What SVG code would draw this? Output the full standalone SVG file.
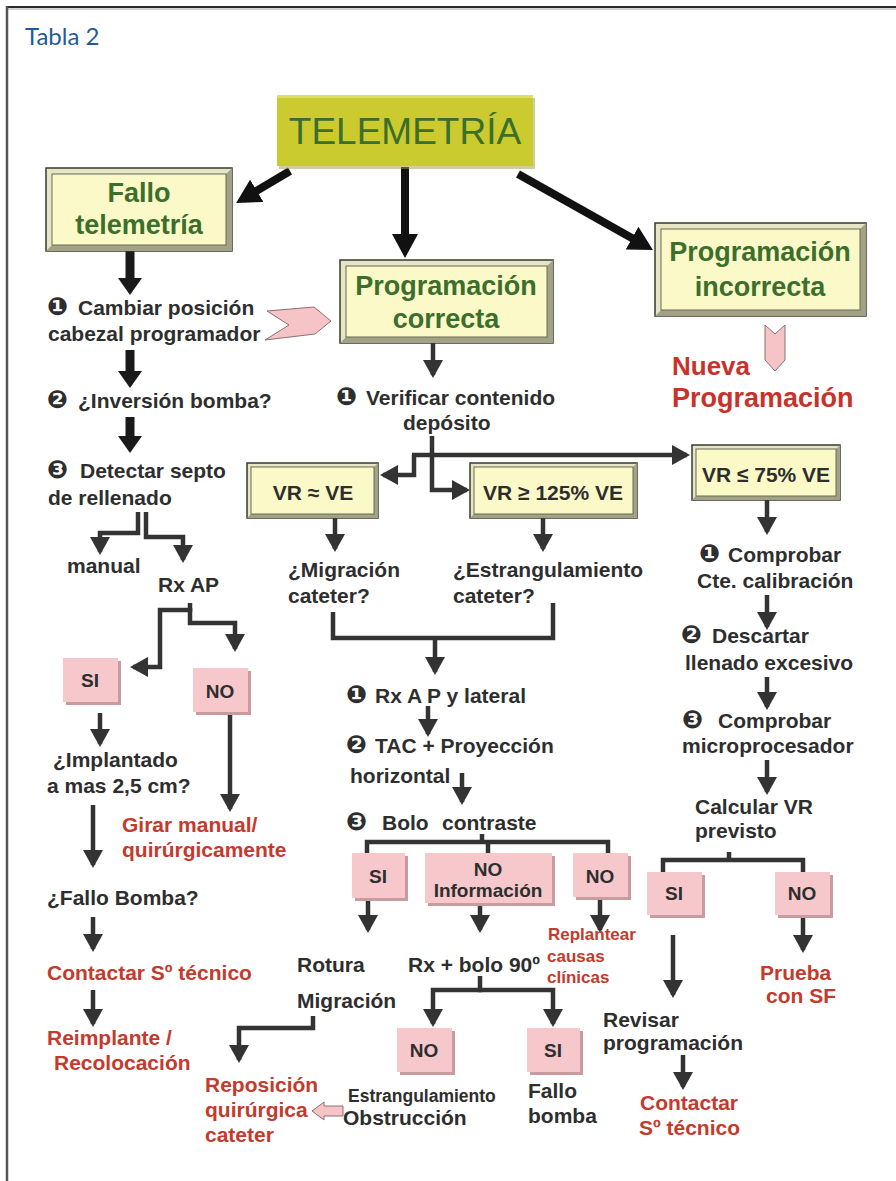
<svg xmlns="http://www.w3.org/2000/svg" width="896" height="1181" viewBox="0 0 896 1181">
<style>
  text { font-family: "Liberation Sans", "DejaVu Sans", Arial, sans-serif; font-weight: bold; }
  .t { fill: #2e2e2e; font-size: 21px; }
  .n { font-family: "DejaVu Sans", sans-serif; font-size: 25px; }
  .ts { fill: #2e2e2e; font-size: 17.5px; }
  .r { fill: #c43a2c; font-size: 21px; }
  .rs { fill: #c43a2c; font-size: 17px; }
  .rb { fill: #c8322a; font-size: 26px; }
  .g { fill: #3c6e2c; font-size: 27px; text-anchor: middle; }
  .bx { fill: #2e2e2e; font-size: 21px; text-anchor: middle; }
  .pk { fill: #2e2e2e; font-size: 19px; text-anchor: middle; }
  .ttl { fill: #1f5b9a; font-family: Lato, "Open Sans", sans-serif; font-weight: normal; font-size: 24px; }
  .ln { fill: none; stroke: #333; stroke-width: 4.5; }
  .lnb { fill: none; stroke: #1a1a1a; stroke-width: 9; }
  .lnc { fill: none; stroke: #111; stroke-width: 8; }
  .bo { fill: #e6e5c6; stroke: #3a3a30; stroke-width: 1.5; }
  .bs { fill: #a3a286; }
  .bi { fill: #fbf9c8; stroke: #6a6a55; stroke-width: 1; }
  .ps { fill: #c99a9e; }
  .pf { fill: #f6c8cb; }
  .chev { fill: #f6c3c6; stroke: #8a7070; stroke-width: 1; }
</style>
<defs>
  <marker id="a" viewBox="0 0 18 20" refX="15" refY="10" markerWidth="18" markerHeight="20" markerUnits="userSpaceOnUse" orient="auto">
    <path d="M0,0 L18,10 L0,20 z" fill="#333"/>
  </marker>
  <marker id="b" viewBox="0 0 17 24" refX="10" refY="12" markerWidth="17" markerHeight="24" markerUnits="userSpaceOnUse" orient="auto">
    <path d="M0,0 L17,12 L0,24 z" fill="#1a1a1a"/>
  </marker>
  <marker id="c" viewBox="0 0 24 26" refX="16" refY="13" markerWidth="24" markerHeight="26" markerUnits="userSpaceOnUse" orient="auto">
    <path d="M0,0 L24,13 L0,26 z" fill="#111"/>
  </marker>
</defs>

<rect x="0" y="0" width="896" height="1181" fill="#ffffff"/>
<g id="frame">
  <line x1="6" y1="7" x2="896" y2="7" stroke="#2a2a2a" stroke-width="2"/>
  <line x1="8" y1="9" x2="896" y2="9" stroke="#aaaaaa" stroke-width="1"/>
  <line x1="7" y1="6" x2="7" y2="1181" stroke="#555" stroke-width="2.5"/>
</g>
<g id="title"><text class="ttl" x="25" y="45">Tabla 2</text></g>

<g id="connectors">
  <line class="lnc" x1="290" y1="171" x2="243" y2="199" marker-end="url(#c)"/>
  <line class="lnc" x1="405" y1="167" x2="405" y2="250" marker-end="url(#c)"/>
  <line class="lnc" x1="518" y1="174" x2="646" y2="246" marker-end="url(#c)"/>
  <line class="lnb" x1="130" y1="251" x2="130" y2="288" marker-end="url(#b)"/>
  <line class="lnb" x1="130" y1="350" x2="130" y2="381" marker-end="url(#b)"/>
  <line class="lnb" x1="130" y1="417" x2="130" y2="446" marker-end="url(#b)"/>
  <path class="ln" d="M138,512 V533 H100 V552" marker-end="url(#a)"/>
  <path class="ln" d="M146,512 V537 H183 V560" marker-end="url(#a)"/>
  <path class="ln" d="M190,603 V610 H160 V667 H133" marker-end="url(#a)"/>
  <path class="ln" d="M190,608 V623 H235 V649" marker-end="url(#a)"/>
  <line class="ln" x1="100" y1="713" x2="100" y2="744" marker-end="url(#a)"/>
  <line class="ln" x1="230" y1="712" x2="230" y2="809" marker-end="url(#a)"/>
  <line class="ln" x1="93" y1="805" x2="93" y2="865" marker-end="url(#a)"/>
  <line class="ln" x1="93" y1="917" x2="93" y2="949" marker-end="url(#a)"/>
  <line class="ln" x1="93" y1="990" x2="93" y2="1024" marker-end="url(#a)"/>
  <line class="ln" x1="433" y1="343" x2="433" y2="375" marker-end="url(#a)"/>
  <path class="ln" d="M432,436 V490 H467" marker-end="url(#a)"/>
  <path class="ln" d="M412,455 H687" marker-end="url(#a)"/>
  <path class="ln" d="M414,455 V475 H383" marker-end="url(#a)"/>
  <line class="ln" x1="335" y1="518" x2="335" y2="549" marker-end="url(#a)"/>
  <line class="ln" x1="543" y1="518" x2="543" y2="549" marker-end="url(#a)"/>
  <path class="ln" d="M333,612 V638 H553 V603"/>
  <line class="ln" x1="435" y1="638" x2="435" y2="672" marker-end="url(#a)"/>
  <line class="ln" x1="428" y1="706" x2="428" y2="734" marker-end="url(#a)"/>
  <line class="ln" x1="462" y1="773" x2="462" y2="802" marker-end="url(#a)"/>
  <path class="ln" d="M482,834 V842"/>
  <path class="ln" d="M367,853 V842 H608 V853"/>
  <path class="ln" d="M488,842 V853"/>
  <line class="ln" x1="368" y1="898" x2="368" y2="930" marker-end="url(#a)"/>
  <line class="ln" x1="480" y1="903" x2="480" y2="930" marker-end="url(#a)"/>
  <line class="ln" x1="600" y1="897" x2="600" y2="930" marker-end="url(#a)"/>
  <path class="ln" d="M480,976 V990"/>
  <path class="ln" d="M482,990 H433 V1024" marker-end="url(#a)"/>
  <path class="ln" d="M478,990 H553 V1024" marker-end="url(#a)"/>
  <path class="ln" d="M313,1016 V1028 H239 V1060" marker-end="url(#a)"/>
  <polygon class="chev" points="312,1111 324,1102 324,1106 343,1106 343,1116 324,1116 324,1120"/>
  <line class="ln" x1="767" y1="500" x2="767" y2="532" marker-end="url(#a)"/>
  <line class="ln" x1="767" y1="595" x2="767" y2="627" marker-end="url(#a)"/>
  <line class="ln" x1="767" y1="677" x2="767" y2="707" marker-end="url(#a)"/>
  <line class="ln" x1="767" y1="760" x2="767" y2="792" marker-end="url(#a)"/>
  <path class="ln" d="M729,852 V860"/>
  <path class="ln" d="M663,872 V860 H803 V872"/>
  <line class="ln" x1="673" y1="935" x2="673" y2="995" marker-end="url(#a)"/>
  <line class="ln" x1="803" y1="915" x2="803" y2="950" marker-end="url(#a)"/>
  <line class="ln" x1="683" y1="1055" x2="683" y2="1087" marker-end="url(#a)"/>
  <polygon class="chev" points="267,311 314,307 331,321 315,334 265,340 289,325"/>
  <polygon class="chev" points="765,325 775,334 785,325 785,360 775,371 765,360"/>
</g>

<g id="telemetria">
  <rect x="279" y="98" width="256" height="71" fill="#9e9e40" opacity="0.5"/>
  <rect x="277" y="95" width="256" height="71" fill="#cbcb2f"/>
  <rect x="277" y="95" width="256" height="3" fill="#dede60"/>
  <text x="405" y="144" fill="#3c6e2c" font-size="37" text-anchor="middle" style="font-weight:normal">TELEMETRÍA</text>
</g>

<g id="fallo-telemetria">
  <rect class="bo" x="46" y="168" width="186" height="83"/>
  <polygon class="bs" points="232,168 232,251 46,251 52,245 226,245 226,174"/>
  <rect class="bi" x="52" y="174" width="174" height="71"/>
  <text class="g" x="139" y="202">Fallo</text>
  <text class="g" x="139" y="234">telemetría</text>
</g>

<g id="prog-correcta">
  <rect class="bo" x="340" y="260" width="213" height="83"/>
  <polygon class="bs" points="553,260 553,343 340,343 346,337 547,337 547,266"/>
  <rect class="bi" x="346" y="266" width="201" height="71"/>
  <text class="g" x="446" y="295">Programación</text>
  <text class="g" x="446" y="328">correcta</text>
</g>

<g id="prog-incorrecta">
  <rect class="bo" x="655" y="223" width="211" height="93"/>
  <polygon class="bs" points="866,223 866,316 655,316 661,310 860,310 860,229"/>
  <rect class="bi" x="661" y="229" width="199" height="81"/>
  <text class="g" x="760" y="261">Programación</text>
  <text class="g" x="760" y="296">incorrecta</text>
</g>

<g id="nueva-programacion">
  <text class="rb" x="672" y="375">Nueva</text>
  <text class="rb" x="672" y="407" style="font-size:27px">Programación</text>
</g>

<g id="vr-ve">
  <rect class="bo" x="247" y="463" width="131" height="55"/>
  <polygon class="bs" points="378,463 378,518 247,518 251,514 374,514 374,467"/>
  <rect class="bi" x="251" y="467" width="123" height="47"/>
  <text class="bx" x="313" y="500">VR ≈ VE</text>
</g>
<g id="vr-125">
  <rect class="bo" x="470" y="463" width="167" height="55"/>
  <polygon class="bs" points="637,463 637,518 470,518 474,514 633,514 633,467"/>
  <rect class="bi" x="474" y="467" width="159" height="47"/>
  <text class="bx" x="553" y="500">VR ≥ 125% VE</text>
</g>
<g id="vr-75">
  <rect class="bo" x="692" y="445" width="148" height="55"/>
  <polygon class="bs" points="840,445 840,500 692,500 696,496 836,496 836,449"/>
  <rect class="bi" x="696" y="449" width="140" height="47"/>
  <text class="bx" x="766" y="482">VR ≤ 75% VE</text>
</g>

<g id="cambiar-posicion">
  <text class="t" y="315"><tspan class="n" x="47">❶</tspan><tspan x="78">Cambiar posición</tspan></text>
  <text class="t" x="48" y="341">cabezal programador</text>
</g>
<g id="inversion-bomba">
  <text class="t" y="408"><tspan class="n" x="47">❷</tspan><tspan x="78">¿Inversión bomba?</tspan></text>
</g>
<g id="detectar-septo">
  <text class="t" y="478"><tspan class="n" x="47">❸</tspan><tspan x="80">Detectar septo</tspan></text>
  <text class="t" x="48" y="505">de rellenado</text>
</g>
<g id="manual"><text class="t" x="67" y="573">manual</text></g>
<g id="rx-ap"><text class="t" x="158" y="592">Rx AP</text></g>
<g id="si-left">
  <rect class="ps" x="66" y="661" width="55" height="44"/>
  <rect class="pf" x="63" y="658" width="55" height="44"/>
  <text class="pk" x="90" y="687">SI</text>
</g>
<g id="no-left">
  <rect class="ps" x="196" y="671" width="55" height="44"/>
  <rect class="pf" x="193" y="668" width="55" height="44"/>
  <text class="pk" x="220" y="698">NO</text>
</g>
<g id="implantado">
  <text class="t" x="53" y="767">¿Implantado</text>
  <text class="t" x="47" y="793">a mas 2,5 cm?</text>
</g>
<g id="girar">
  <text class="r" x="122" y="832">Girar manual/</text>
  <text class="r" x="122" y="857">quirúrgicamente</text>
</g>
<g id="fallo-bomba"><text class="t" x="47" y="905">¿Fallo Bomba?</text></g>
<g id="contactar-left"><text class="r" x="47" y="980">Contactar Sº técnico</text></g>
<g id="reimplante">
  <text class="r" x="47" y="1045">Reimplante /</text>
  <text class="r" x="54" y="1070">Recolocación</text>
</g>

<g id="verificar">
  <text class="t" y="405"><tspan class="n" x="336">❶</tspan><tspan x="366">Verificar contenido</tspan></text>
  <text class="t" x="403" y="430">depósito</text>
</g>
<g id="migracion-q">
  <text class="t" x="288" y="577">¿Migración</text>
  <text class="t" x="288" y="603">cateter?</text>
</g>
<g id="estrangulamiento-q">
  <text class="t" x="453" y="577">¿Estrangulamiento</text>
  <text class="t" x="453" y="603">cateter?</text>
</g>
<g id="rx-ap-lateral">
  <text class="t" y="703"><tspan class="n" x="346">❶</tspan><tspan x="375">Rx A P y lateral</tspan></text>
</g>
<g id="tac">
  <text class="t" y="753"><tspan class="n" x="346">❷</tspan><tspan x="375">TAC + Proyección</tspan></text>
  <text class="t" x="350" y="783">horizontal</text>
</g>
<g id="bolo">
  <text class="t" y="830"><tspan class="n" x="346">❸</tspan><tspan x="382">Bolo</tspan><tspan x="442">contraste</tspan></text>
</g>
<g id="si-bolo">
  <rect class="ps" x="355" y="856" width="53" height="45"/>
  <rect class="pf" x="352" y="853" width="53" height="45"/>
  <text class="pk" x="378" y="883">SI</text>
</g>
<g id="no-informacion">
  <rect class="ps" x="428" y="856" width="127" height="50"/>
  <rect class="pf" x="425" y="853" width="127" height="50"/>
  <text class="pk" x="488" y="876">NO</text>
  <text class="pk" x="488" y="897">Información</text>
</g>
<g id="no-bolo">
  <rect class="ps" x="576" y="856" width="55" height="44"/>
  <rect class="pf" x="573" y="853" width="55" height="44"/>
  <text class="pk" x="600" y="883">NO</text>
</g>
<g id="replantear">
  <text class="rs" x="548" y="940">Replantear</text>
  <text class="rs" x="547" y="962">causas</text>
  <text class="rs" x="547" y="983">clínicas</text>
</g>
<g id="rotura"><text class="t" x="297" y="972">Rotura</text></g>
<g id="migracion"><text class="t" x="297" y="1008">Migración</text></g>
<g id="rx-bolo"><text class="t" x="408" y="972">Rx + bolo 90º</text></g>
<g id="no-rx">
  <rect class="ps" x="400" y="1031" width="55" height="44"/>
  <rect class="pf" x="397" y="1028" width="55" height="44"/>
  <text class="pk" x="424" y="1057">NO</text>
</g>
<g id="si-rx">
  <rect class="ps" x="530" y="1031" width="53" height="44"/>
  <rect class="pf" x="527" y="1028" width="53" height="44"/>
  <text class="pk" x="553" y="1057">SI</text>
</g>
<g id="reposicion">
  <text class="r" x="205" y="1092">Reposición</text>
  <text class="r" x="205" y="1117">quirúrgica</text>
  <text class="r" x="205" y="1142">cateter</text>
</g>
<g id="obstruccion">
  <text class="ts" x="348" y="1102">Estrangulamiento</text>
  <text class="t" x="343" y="1125">Obstrucción</text>
</g>
<g id="fallo-bomba-2">
  <text class="t" x="528" y="1098">Fallo</text>
  <text class="t" x="528" y="1123">bomba</text>
</g>

<g id="comprobar-cte">
  <text class="t" y="562"><tspan class="n" x="699">❶</tspan><tspan x="728">Comprobar</tspan></text>
  <text class="t" x="697" y="588">Cte. calibración</text>
</g>
<g id="descartar">
  <text class="t" y="643"><tspan class="n" x="681">❷</tspan><tspan x="712">Descartar</tspan></text>
  <text class="t" x="685" y="670">llenado excesivo</text>
</g>
<g id="comprobar-micro">
  <text class="t" y="728"><tspan class="n" x="682">❸</tspan><tspan x="718">Comprobar</tspan></text>
  <text class="t" x="682" y="753">microprocesador</text>
</g>
<g id="calcular">
  <text class="t" x="695" y="814">Calcular VR</text>
  <text class="t" x="695" y="838">previsto</text>
</g>
<g id="si-right">
  <rect class="ps" x="650" y="875" width="55" height="43"/>
  <rect class="pf" x="647" y="872" width="55" height="43"/>
  <text class="pk" x="674" y="900">SI</text>
</g>
<g id="no-right">
  <rect class="ps" x="778" y="875" width="55" height="43"/>
  <rect class="pf" x="775" y="872" width="55" height="43"/>
  <text class="pk" x="802" y="900">NO</text>
</g>
<g id="prueba">
  <text class="r" x="760" y="980">Prueba</text>
  <text class="r" x="766" y="1003">con SF</text>
</g>
<g id="revisar">
  <text class="t" x="603" y="1027">Revisar</text>
  <text class="t" x="603" y="1050">programación</text>
</g>
<g id="contactar-right">
  <text class="r" x="640" y="1110">Contactar</text>
  <text class="r" x="639" y="1135">Sº técnico</text>
</g>
</svg>
